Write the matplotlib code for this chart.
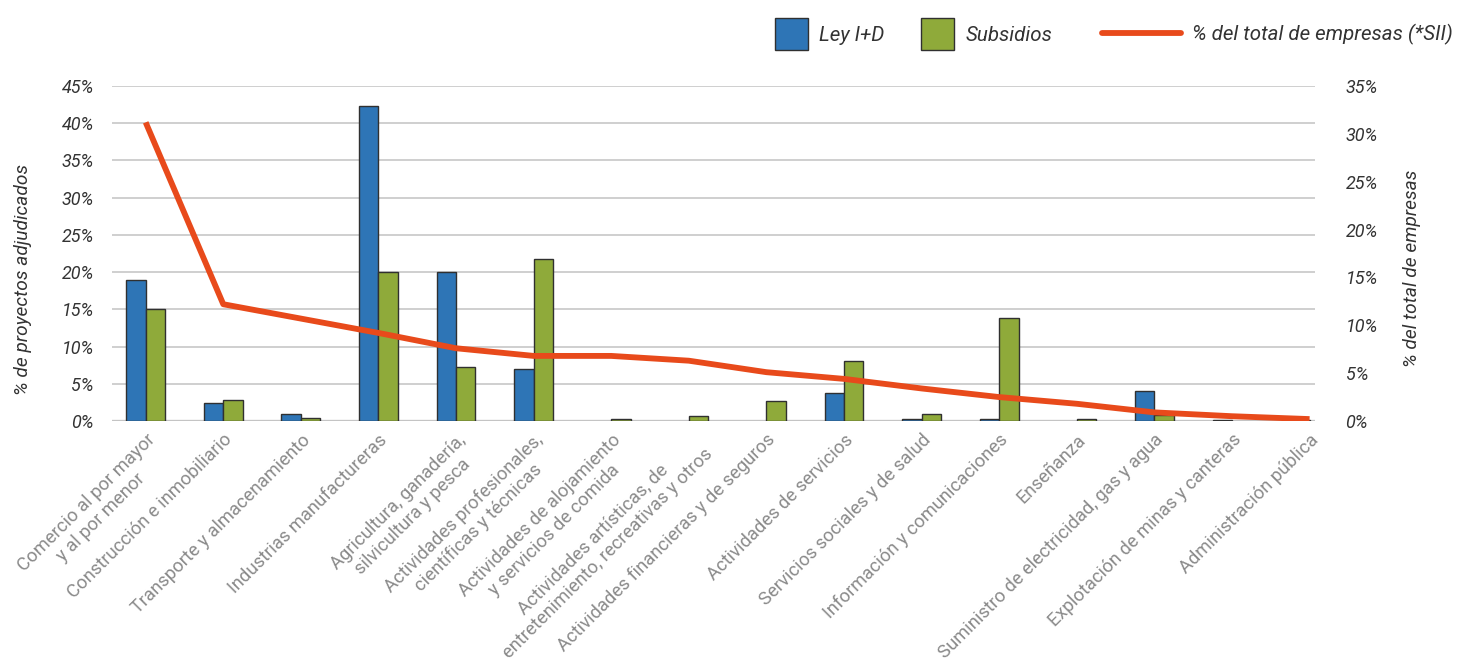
import numpy as np
import matplotlib
matplotlib.use("Agg")
import matplotlib.pyplot as plt
from matplotlib.patches import Patch
from matplotlib.lines import Line2D
from matplotlib.ticker import FuncFormatter

# ---------------- data ----------------
categories = [
    "Comercio al por mayor\ny al por menor",
    "Construcción e inmobiliario",
    "Transporte y almacenamiento",
    "Industrias manufactureras",
    "Agricultura, ganadería,\nsilvicultura y pesca",
    "Actividades profesionales,\ncientíficas y técnicas",
    "Actividades de alojamiento\ny servicios de comida",
    "Actividades artísticas, de\nentretenimiento, recreativas y otros",
    "Actividades financieras y de seguros",
    "Actividades de servicios",
    "Servicios sociales y de salud",
    "Información y comunicaciones",
    "Enseñanza",
    "Suministro de electricidad, gas y agua",
    "Explotación de minas y canteras",
    "Administración pública",
]
ley_id = [19.0, 2.4, 0.9, 42.3, 20.0, 7.0, 0.0, 0.0, 0.0, 3.8, 0.3, 0.3, 0.0, 4.0, 0.2, 0.2]
subsidios = [15.0, 2.8, 0.4, 20.0, 7.3, 21.7, 0.3, 0.7, 2.7, 8.1, 0.9, 13.9, 0.3, 0.8, 0.0, 0.0]
pct_empresas = [31.2, 12.2, 10.7, 9.2, 7.6, 6.8, 6.8, 6.3, 5.1, 4.4, 3.4, 2.5, 1.8, 0.9, 0.5, 0.2]

series_names = ["Ley I+D", "Subsidios", "% del total de empresas (*SII)"]
left_ticks = [0, 5, 10, 15, 20, 25, 30, 35, 40, 45]
right_ticks = [0, 5, 10, 15, 20, 25, 30, 35]
left_label = "% de proyectos adjudicados"
right_label = "% del total de empresas"

# ---------------- style ----------------
BLUE = "#2E75B6"
GREEN = "#8FAA3A"
ORANGE = "#E84A1B"
EDGE = "#303030"
TXT = "#333333"
XTXT = "#8a8a8a"
GRID = "#cccccc"

plt.rcParams["font.family"] = ["Roboto", "DejaVu Sans"]

W, H = 1468, 671
fig = plt.figure(figsize=(W / 100, H / 100), dpi=100)
ax_l, ax_r, ax_t, ax_b = 112, 1315, 86, 421
ax = fig.add_axes([ax_l / W, 1 - ax_b / H, (ax_r - ax_l) / W, (ax_b - ax_t) / H])

x = np.arange(len(categories))
bw = 0.25
b1 = ax.bar(x - bw / 2, ley_id, bw, color=BLUE, edgecolor=EDGE, linewidth=1.0, zorder=3)
b2 = ax.bar(x + bw / 2, subsidios, bw, color=GREEN, edgecolor=EDGE, linewidth=1.0, zorder=3)
for bars in (b1, b2):
    for r in bars:
        if r.get_height() <= 0:
            r.set_visible(False)

ax.set_ylim(0, 45)
ax.set_yticks(left_ticks)
ax.yaxis.set_major_formatter(FuncFormatter(lambda v, p: f"{v:.0f}%"))
ax.set_xlim(-0.434, 15.07)
for t in left_ticks[1:]:
    ax.axhline(t, color=GRID, lw=1.3, zorder=1)
ax.axhline(0, color="#c4c4c4", lw=2.4, zorder=2)

for s in ax.spines.values():
    s.set_visible(False)
ax.tick_params(axis="y", length=0, pad=13, labelsize=13, labelcolor=TXT)
ax.tick_params(axis="x", length=0, pad=7)
for lab in ax.get_yticklabels():
    lab.set_fontstyle("italic")

ax.set_xticks(x)
ax.set_xticklabels(categories, rotation=45, ha="right", rotation_mode="anchor",
                   fontsize=13.2, color=XTXT, fontweight="normal", ma="center")

ax.set_ylabel(left_label, fontsize=13.8, fontstyle="italic", color=TXT)
ax.yaxis.label.set_va("center")
ax.yaxis.set_label_coords(-0.074, 0.424)

# secondary axis
ax2 = ax.twinx()
ax2.plot(x, pct_empresas, color=ORANGE, lw=4.2, solid_capstyle="butt", zorder=5)
ax2.set_ylim(0, 35)
ax2.set_yticks(right_ticks)
ax2.yaxis.set_major_formatter(FuncFormatter(lambda v, p: f"{v:.0f}%"))
for s in ax2.spines.values():
    s.set_visible(False)
ax2.tick_params(axis="y", length=0, pad=22, labelsize=13, labelcolor=TXT)
for lab in ax2.get_yticklabels():
    lab.set_fontstyle("italic")
ax2.set_ylabel(right_label, fontsize=13.8, fontstyle="italic", color=TXT)
ax2.yaxis.label.set_va("center")
ax2.yaxis.set_label_coords(1.0806, 0.457)

# ---------------- legends ----------------
fs = 14.8
leg_kw = dict(frameon=False, borderpad=0, borderaxespad=0,
              loc="center left", handletextpad=0.55,
              prop={"style": "italic", "size": fs})
h1 = [Patch(facecolor=BLUE, edgecolor=EDGE, linewidth=1.0),
      Patch(facecolor=GREEN, edgecolor=EDGE, linewidth=1.0)]
leg1 = fig.legend(h1, series_names[:2], ncol=2, handlelength=1.6, handleheight=2.0,
                  columnspacing=1.8, bbox_to_anchor=(775 / W, 1 - 34 / H), **leg_kw)
for t in leg1.get_texts():
    t.set_color(TXT)
h2 = [Line2D([0], [0], color=ORANGE, lw=4.2, solid_capstyle="round")]
leg2 = fig.legend(h2, series_names[2:], handlelength=3.85,
                  bbox_to_anchor=(1102 / W, 1 - 34 / H), **leg_kw)
for t in leg2.get_texts():
    t.set_color(TXT)

fig.savefig("out.png", dpi=100, facecolor="white")
